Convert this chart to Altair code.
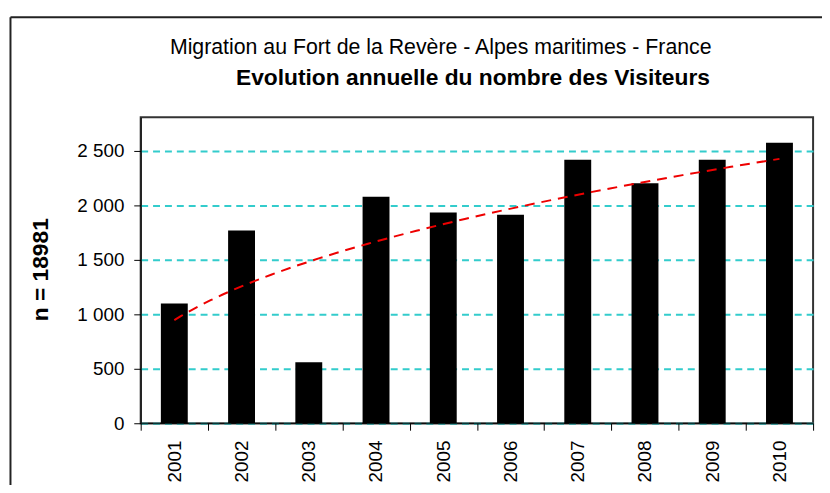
import altair as alt
import pandas as pd

# ---- data ----
years = ["2001", "2002", "2003", "2004", "2005", "2006", "2007", "2008", "2009", "2010"]
rank = [1, 2, 3, 4, 5, 6, 7, 8, 9, 10]
visitors = [1100, 1770, 560, 2080, 1935, 1915, 2420, 2205, 2420, 2576]
y_ticks = [0, 500, 1000, 1500, 2000, 2500]

title_1 = "Migration au Fort de la Revère - Alpes maritimes - France"
title_2 = "Evolution annuelle du nombre des Visiteurs"
y_title = "n = 18981"

FONT = "Liberation Sans"
W, H = 679, 309

df = pd.DataFrame({"year": years, "idx": rank, "visitors": visitors})

y_scale = alt.Scale(domain=[0, 2810], nice=False)

bars = alt.Chart(df).mark_bar(color="black", width=alt.RelativeBandSize(0.4)).encode(
    x=alt.X(
        "year:N",
        sort=None,
        scale=alt.Scale(paddingInner=0, paddingOuter=0),
        axis=alt.Axis(
            title=None,
            labelAngle=270,
            tickBand="extent",
            tickSize=7,
            tickColor="black",
            domainColor="black",
            labelPadding=10,
            labelFontSize=19,
            labelFont=FONT,
            labelColor="black",
        ),
    ),
    y=alt.Y(
        "visitors:Q",
        scale=y_scale,
        axis=alt.Axis(
            values=y_ticks,
            title=y_title,
            titleFont=FONT,
            titleFontSize=23,
            titleFontWeight="bold",
            titleColor="black",
            titleAngle=270,
            titleAlign="center",
            titleBaseline="alphabetic",
            titleX=-94,
            titleY=H / 2 - 1,
            labelExpr="replace(format(datum.value, ','), ',', ' ')",
            labelFont=FONT,
            labelFontSize=19,
            labelColor="black",
            labelPadding=10,
            tickSize=7,
            tickColor="black",
            domainColor="black",
            grid=True,
            gridColor="#33CCCC",
            gridDash=[7, 5],
            gridWidth=2,
        ),
    ),
)

# power trend line (as in the spreadsheet), fitted by Vega
trend = (
    alt.Chart(df)
    .transform_regression("idx", "visitors", method="pow")
    .mark_line(color="#EE0000", strokeDash=[10, 7], strokeWidth=2)
    .encode(
        x=alt.X("idx:Q", scale=alt.Scale(domain=[0.5, 10.5], nice=False, zero=False), axis=None),
        y=alt.Y("visitors:Q", scale=y_scale),
    )
)

t1 = alt.Chart(pd.DataFrame({"t": [title_1]})).mark_text(
    font=FONT, fontSize=21.5, align="center", baseline="alphabetic", color="black"
).encode(x=alt.value(303), y=alt.value(-63.5), text="t:N")

t2 = alt.Chart(pd.DataFrame({"t": [title_2]})).mark_text(
    font=FONT, fontSize=23, fontWeight="bold", align="center", baseline="alphabetic", color="black"
).encode(x=alt.value(335.5), y=alt.value(-32.5), text="t:N")

frame_left = alt.Chart(pd.DataFrame({"a": [0]})).mark_rule(color="#222222", strokeWidth=2).encode(
    x=alt.value(-131.5), y=alt.value(-101), y2=alt.value(400)
)
frame_top = alt.Chart(pd.DataFrame({"a": [0]})).mark_rule(color="#222222", strokeWidth=2).encode(
    x=alt.value(-131.5), x2=alt.value(720), y=alt.value(-101)
)

chart = (
    alt.layer(bars, trend, t1, t2, frame_left, frame_top)
    .resolve_scale(x="independent")
    .properties(
        width=W,
        height=H,
        autosize=alt.AutoSizeParams(type="none"),
        padding={"left": 134, "top": 108, "right": 9, "bottom": 60},
        background="white",
    )
    .configure_view(stroke="#333333", strokeWidth=2)
)

chart.save("out.html", embed_options={"renderer": "svg", "actions": False})
